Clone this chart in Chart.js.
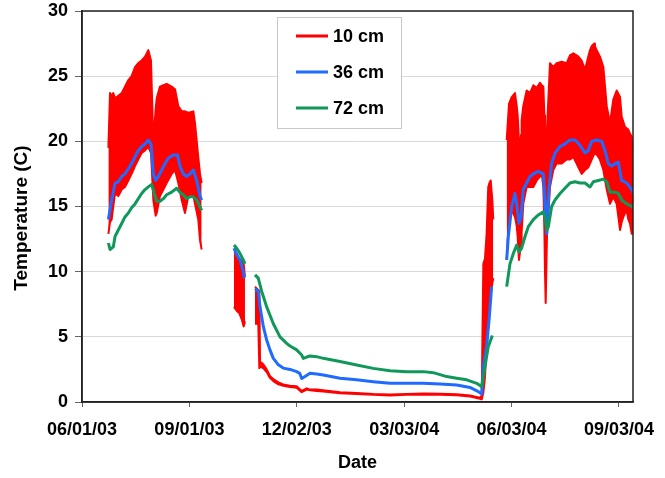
<!DOCTYPE html>
<html>
<head>
<meta charset="utf-8">
<script src="https://cdn.jsdelivr.net/npm/chart.js@4.4.1/dist/chart.umd.min.js"></script>
<style>
  html, body { margin: 0; padding: 0; background: #fff; }
  #soilChart { display: block; }
</style>
</head>
<body>
<canvas id="soilChart" width="665" height="478"></canvas>
<script>
// Eixo X em dias desde 06/01/03; null = falha nos registros
const tickDays = [0, 92, 184, 276, 368, 460];
const tickLabels = ['06/01/03', '09/01/03', '12/02/03', '03/03/04', '06/03/04', '09/03/04'];

// 10 cm: envelope diário (máx / mín)
const days10 = [
  22.6, 24.0, 25.4, 26.8, 28.3, 31.1, 34.0, 36.8, 39.7, 42.5, 45.4, 48.2, 51.1, 54.0, 56.8, 59.1, 61.1, 63.1, 64.0, 66.8, 69.7, 72.5, 76.8, 79.7, 82.5, 85.4, 88.2, 91.1, 95.4, 96.8, 99.6, 101.1, 102.5,
  110,
  130.2, 132.5, 134.8, 137.0, 138.5, 139.6,
  144,
  148.2, 151.0, 151.9, 152.5, 155.3, 158.2, 161.0, 163.9, 168.2, 172.4, 178.2, 183.9, 188.2, 192.5, 195.3, 201.0, 206.7, 221.0, 235.3, 249.5, 263.8, 278.1, 292.4, 306.7, 321.0, 332.4, 340.9, 342.4, 343.8, 345.2, 346.6, 348.0, 349.0, 350.1, 351.5, 352.3,
  358,
  363.8, 365.8, 368.1, 370.9, 372.4, 373.2, 374.3, 375.2, 376.1, 376.6, 378.0, 380.9, 383.8, 386.6, 389.5, 392.3, 393.8, 395.2, 396.1, 396.6, 397.2, 398.3, 400.9, 403.7, 406.6, 410.9, 415.2, 418.0, 420.9, 423.7, 425.2, 428.0, 430.9, 433.7, 435.2, 436.6, 438.6, 439.4, 440.9, 443.7, 446.6, 449.5, 452.3, 455.1, 458.0, 460.9, 462.3, 463.7, 465.2, 466.6, 468.0, 469.4, 470.9, 472.3
];
const hi10 = [
  19.5, 23.7, 23.5, 23.7, 23.3, 23.5, 23.7, 24.2, 24.7, 25.0, 25.7, 26.0, 26.2, 26.5, 27.0, 26.2, 19.9, 22.5, 23.3, 24.2, 24.3, 24.4, 24.2, 24.0, 22.7, 22.3, 22.3, 22.2, 22.3, 21.4, 18.8, 17.5, 16.8,
  null,
  11.5, 11.4, 11.0, 10.8, 10.6, 9.6,
  null,
  8.85, 8.6, 8.5, 3.1, 2.9, 2.5, 2.0, 1.75, 1.5, 1.35, 1.25, 1.2, 0.85, 1.05, 0.95, 0.95, 0.9, 0.75, 0.7, 0.62, 0.57, 0.62, 0.65, 0.63, 0.6, 0.5, 0.32, 0.5, 10.6, 11.0, 12.9, 16.5, 16.8, 17.0, 15.5, 14.0,
  null,
  20.1, 22.9, 23.4, 23.7, 22.7, 22.0, 20.1, 19.1, 20.5, 21.6, 22.7, 23.9, 23.7, 24.3, 24.1, 24.5, 24.3, 24.2, 22.0, 21.1, 21.0, 20.9, 26.0, 25.7, 26.0, 26.1, 26.0, 26.6, 26.75, 26.6, 26.5, 26.2, 25.5, 26.5, 27.0, 27.3, 27.5, 27.3, 27.0, 26.5, 25.7, 22.7, 21.4, 23.2, 23.9, 23.4, 21.9, 21.5, 21.1, 21.0, 20.9, 20.6, 20.35, 18.3
];
const lo10 = [
  12.9, 13.8, 14.0, 15.0, 16.0, 15.8, 16.3, 16.5, 17.0, 17.5, 18.1, 18.6, 19.1, 19.3, 19.6, 19.1, 15.5, 14.3, 14.5, 15.8, 16.3, 16.8, 17.5, 17.8, 16.8, 15.5, 14.5, 15.8, 15.8, 15.2, 14.0, 12.4, 11.7,
  null,
  7.3, 7.0, 6.8, 6.3, 5.8, 6.2,
  null,
  6.0, 6.0, 2.6, 2.7, 2.6, 2.3, 1.85, 1.6, 1.35, 1.25, 1.15, 1.1, 0.75, 0.95, 0.9, 0.85, 0.8, 0.68, 0.62, 0.55, 0.5, 0.55, 0.58, 0.56, 0.52, 0.42, 0.25, 0.2, 0.7, 1.9, 4.5, 5.8, 8.3, 8.3, 9.1, 9.5,
  null,
  10.9, 14.2, 14.7, 14.2, 13.5, 12.7, 10.9, 11.5, 12.2, 13.0, 15.2, 16.5, 16.5, 16.5, 17.0, 17.3, 17.5, 16.5, 13.2, 10.0, 7.6, 12.7, 16.5, 17.8, 18.3, 18.3, 18.6, 18.6, 18.8, 18.3, 18.0, 17.5, 17.8, 18.0, 18.3, 18.6, 19.0, 19.1, 19.0, 18.6, 17.8, 16.3, 15.2, 15.75, 15.2, 13.2, 13.8, 14.2, 14.5, 14.7, 14.0, 13.7, 12.9, 12.9
];

// 36 cm
const days36 = [
  22.6, 25.4, 28.3, 31.1, 34.0, 36.8, 39.7, 42.5, 45.4, 48.2, 51.1, 54.0, 56.8, 59.1, 61.1, 63.1, 65.4, 68.3, 71.1, 73.9, 78.2, 81.9, 83.9, 86.8, 89.6, 92.5, 95.4, 98.2, 101.1, 102.5,
  110,
  130.2, 132.5, 135.3, 138.2, 139.0,
  144,
  148.2, 151.0, 152.5, 155.3, 158.2, 161.0, 163.9, 168.2, 172.4, 178.2, 183.9, 186.5, 188.2, 191.0, 195.3, 201.0, 206.7, 221.0, 235.3, 249.5, 263.8, 278.1, 292.4, 306.7, 321.0, 332.4, 339.5, 342.4, 343.8, 346.6, 348.9, 350.9,
  358,
  363.8, 365.2, 368.1, 370.9, 372.4, 374.3, 376.1, 378.0, 380.9, 383.8, 386.6, 390.9, 395.2, 396.6, 398.1, 400.0, 402.3, 405.2, 409.5, 413.7, 418.0, 422.3, 426.6, 430.9, 433.7, 436.6, 440.9, 445.2, 448.0, 450.8, 453.7, 456.6, 459.4, 462.3, 466.6, 470.9, 472.3
];
const t36 = [
  14.0, 15.5, 16.8, 16.9, 17.3, 17.5, 17.9, 18.3, 18.8, 19.3, 19.6, 19.8, 20.1, 19.8, 17.5, 17.0, 17.3, 17.8, 18.3, 18.7, 18.95, 18.95, 18.1, 17.5, 17.3, 17.5, 17.8, 17.0, 15.8, 15.5,
  null,
  11.8, 11.3, 10.9, 10.0, 9.5,
  null,
  8.7, 8.5, 7.3, 5.8, 4.75, 4.0, 3.35, 2.85, 2.6, 2.5, 2.33, 2.2, 1.8, 1.95, 2.2, 2.15, 2.07, 1.82, 1.7, 1.56, 1.43, 1.43, 1.43, 1.38, 1.3, 1.12, 0.8, 0.6, 2.7, 4.25, 6.5, 8.85,
  null,
  10.9, 12.7, 15.0, 16.0, 15.2, 13.7, 14.2, 16.3, 16.8, 17.3, 17.5, 17.7, 17.5, 15.2, 12.9, 16.3, 18.3, 19.1, 19.6, 19.8, 20.1, 20.1, 19.7, 19.1, 19.3, 20.0, 20.1, 20.0, 19.3, 18.3, 18.1, 18.3, 18.4, 17.0, 16.8, 16.3, 16.0
];

// 72 cm
const days72 = [
  22.6, 24.0, 26.8, 28.3, 31.1, 34.0, 36.8, 39.7, 42.5, 45.4, 48.2, 51.1, 54.0, 56.8, 59.7, 61.9, 64.0, 66.8, 69.7, 72.5, 76.8, 81.1, 83.9, 86.8, 89.6, 92.5, 95.4, 98.2, 102.5,
  110,
  130.2, 132.5, 135.3, 138.2, 139.6,
  144,
  148.2, 151.0, 153.9, 158.2, 163.9, 169.6, 175.3, 178.2, 183.9, 188.2, 189.6, 192.5, 195.3, 201.0, 206.7, 221.0, 235.3, 249.5, 263.8, 278.1, 292.4, 300.9, 312.4, 321.0, 329.5, 338.1, 342.4, 345.2, 348.0, 351.5,
  358,
  363.8, 366.6, 369.5, 372.4, 374.3, 376.6, 379.5, 382.3, 386.6, 390.9, 395.2, 396.6, 398.1, 399.5, 402.3, 405.2, 409.5, 413.7, 418.0, 422.3, 426.6, 430.9, 435.2, 438.0, 442.3, 446.6, 449.5, 452.3, 456.6, 459.4, 462.3, 466.6, 470.9, 472.3
];
const t72 = [
  12.2, 11.7, 11.9, 12.7, 13.2, 13.7, 14.2, 14.5, 14.9, 15.2, 15.6, 16.0, 16.3, 16.5, 16.7, 16.0, 15.4, 15.4, 15.6, 15.9, 16.1, 16.4, 16.1, 15.9, 15.6, 15.75, 15.75, 15.5, 14.7,
  null,
  12.05, 11.8, 11.4, 10.9, 10.6,
  null,
  9.75, 9.5, 8.5, 7.3, 6.0, 5.0, 4.5, 4.3, 4.0, 3.6, 3.35, 3.45, 3.53, 3.48, 3.35, 3.1, 2.84, 2.58, 2.4, 2.33, 2.33, 2.25, 1.95, 1.82, 1.7, 1.43, 1.17, 2.7, 4.25, 5.1,
  null,
  8.85, 10.6, 11.4, 12.05, 11.5, 11.8, 12.7, 13.45, 14.0, 14.35, 14.6, 14.2, 13.2, 13.45, 15.0, 15.5, 16.0, 16.4, 16.8, 16.9, 16.8, 16.8, 16.5, 16.9, 17.0, 17.1, 16.9, 16.1, 16.1, 16.0, 15.5, 15.2, 15.0, 14.9
];

const RED = '#ff0000';
const BLUE = '#1f6bff';
const GREEN = '#10985a';
const FONT = "'Liberation Sans', Arial, sans-serif";

const toPoints = (days, vals) => days.map((d, i) => ({ x: d, y: vals[i] }));

// Moldura, legenda com caixa e título do eixo Y
const framePlugin = {
    id: 'framePlugin',
    afterDraw(chart) {
        const { ctx, chartArea: a } = chart;
        ctx.save();
        ctx.strokeStyle = '#222';
        ctx.lineWidth = 1.5;
        ctx.strokeRect(a.left, a.top, a.right - a.left, a.bottom - a.top);

        // legenda
        ctx.fillStyle = '#fff';
        ctx.fillRect(277, 17, 124, 111);
        ctx.strokeStyle = '#c8c8c8';
        ctx.lineWidth = 1;
        ctx.strokeRect(277.5, 17.5, 124, 111);
        const items = chart.data.datasets.filter(ds => ds.label).reverse();
        ctx.font = 'bold 18px ' + FONT;
        ctx.textBaseline = 'middle';
        items.forEach((ds, i) => {
            const y = 36 + i * 36;
            ctx.strokeStyle = ds.borderColor;
            ctx.lineWidth = 3;
            ctx.beginPath();
            ctx.moveTo(296, y);
            ctx.lineTo(328, y);
            ctx.stroke();
            ctx.fillStyle = '#000';
            ctx.fillText(ds.label, 333, y + 1);
        });

        // título do eixo Y
        ctx.translate(22, 218);
        ctx.rotate(-Math.PI / 2);
        ctx.textAlign = 'center';
        ctx.font = 'bold 19px ' + FONT;
        ctx.fillStyle = '#000';
        ctx.fillText('Temperature (C)', 0, 0);
        ctx.restore();
    }
};

const ctx = document.getElementById('soilChart').getContext('2d');
const soilChart = new Chart(ctx, {
    type: 'line',
    data: {
        datasets: [
            { label: '72 cm', data: toPoints(days72, t72), borderColor: GREEN, borderWidth: 3, fill: false },
            { label: '36 cm', data: toPoints(days36, t36), borderColor: BLUE, borderWidth: 3, fill: false },
            { label: '10 cm', data: toPoints(days10, hi10), borderColor: RED, backgroundColor: RED, borderWidth: 2, fill: '+1' },
            { label: '', data: toPoints(days10, lo10), borderColor: RED, borderWidth: 2, fill: false }
        ]
    },
    options: {
        responsive: false,
        animation: false,
        devicePixelRatio: 1,
        spanGaps: false,
        layout: { padding: { top: 11, right: 32, left: 0, bottom: 0 } },
        elements: {
            point: { radius: 0 },
            line: { tension: 0, borderJoinStyle: 'round' }
        },
        plugins: {
            legend: { display: false },
            tooltip: { enabled: false }
        },
        scales: {
            x: {
                type: 'linear',
                min: 0,
                max: 472,
                afterBuildTicks: axis => { axis.ticks = tickDays.map(v => ({ value: v })); },
                afterFit: scale => {
                    scale.height = 76;
                    scale.paddingLeft = 0;
                    scale.paddingRight = 0;
                },
                ticks: {
                    callback: (v, i) => tickLabels[i],
                    font: { family: FONT, size: 18, weight: 'bold' },
                    color: '#000',
                    padding: 12,
                    maxRotation: 0,
                    autoSkip: false
                },
                grid: { drawOnChartArea: false, tickLength: 5, tickColor: '#666' },
                border: { color: '#222', width: 1.5 },
                title: {
                    display: true,
                    text: 'Date',
                    font: { family: FONT, size: 18, weight: 'bold' },
                    color: '#000',
                    padding: { top: 0, bottom: 4 }
                }
            },
            y: {
                min: 0,
                max: 30,
                afterFit: scale => {
                    scale.width = 82;
                    scale.paddingTop = 0;
                    scale.paddingBottom = 0;
                },
                ticks: {
                    stepSize: 5,
                    font: { family: FONT, size: 18, weight: 'bold' },
                    color: '#000',
                    padding: 7
                },
                grid: { color: '#d9d9d9', lineWidth: 1, tickLength: 7, tickColor: '#666' },
                border: { color: '#222', width: 1.5 }
            }
        }
    },
    plugins: [framePlugin]
});
</script>
</body>
</html>
